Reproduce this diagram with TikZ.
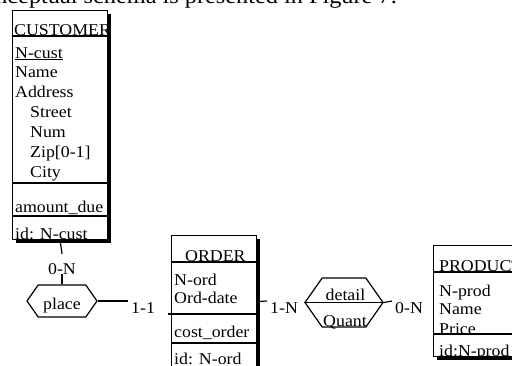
\documentclass[tikz,border=0pt]{standalone}
\usepackage{fontspec}
\setmainfont{Liberation Serif}[FakeStretch=1.08]
\usetikzlibrary{positioning,shapes.symbols,shadows}

\begin{document}
\begin{tikzpicture}[
  x=1pt, y=-1pt,
  font=\fontsize{16.5}{19}\selectfont,
  entity/.style={draw, line width=1.2pt, fill=white, anchor=north west, inner sep=0pt,
    drop shadow={shadow xshift=3pt, shadow yshift=-3pt, fill=black, opacity=1}},
  sep/.style={line width=1.2pt},
  attr/.style={anchor=base west, inner sep=0pt},
  rel/.style={draw, line width=1.2pt, signal, signal to=east and west,
    signal pointer angle=110, inner sep=0pt},
  card/.style={anchor=north west, inner xsep=3pt, inner ysep=1pt},
  link/.style={line width=1.2pt}
]
\useasboundingbox (0,0) rectangle (512,365);
\clip (0,0) rectangle (512,365);

% line of running text above the figure
\node[anchor=base east, inner sep=0pt, font=\fontsize{22.5}{26}\selectfont] (caption) at (397,3.5)
  {conceptual schema is presented in Figure 7.};

% CUSTOMER
\node[entity, minimum width=95pt, minimum height=229pt] (cust) at (12,10) {};
\draw[sep] ([yshift=-26pt]cust.north west) -- ([yshift=-26pt]cust.north east);
\draw[sep] ([yshift=-173pt]cust.north west) -- ([yshift=-173pt]cust.north east);
\draw[sep] ([yshift=-206pt]cust.north west) -- ([yshift=-206pt]cust.north east);
\node[attr] (custname) at (14,35) {CUSTOMER};
\node[attr] (ncust) at (15,58.5) {N-cust};
\draw[line width=1.5pt] ([yshift=-1pt]ncust.base west) -- ([yshift=-1pt]ncust.base east);
\foreach \x/\y/\a [count=\i] in {15/77.5/Name, 15/97/Address, 30/117/Street,
    30/137/Num, 30/157/{Zip[0-1]}, 30/177/City}
  \node[attr] (cust\i) at (\x,\y) {\a};
\node[attr] (due) at (15,212) {amount\_due};
\node[attr] (custid) at (15,239.5) {id: N-cust};

% ORDER
\node[entity, minimum width=85pt, minimum height=132pt] (order) at (171,235) {};
\draw[sep] ([yshift=-27pt]order.north west) -- ([yshift=-27pt]order.north east);
\draw[sep] ([xshift=-3pt,yshift=-79pt]order.north west) -- ([yshift=-79pt]order.north east);
\draw[sep] ([yshift=-108pt]order.north west) -- ([yshift=-108pt]order.north east);
\node[attr] (ordname) at (185,261.5) {ORDER};
\node[attr] (nord) at (174,285) {N-ord};
\node[attr] (orddate) at (174,303) {Ord-date};
\node[attr] (cost) at (174,337) {cost\_order};
\node[attr] (ordid) at (174,364) {id: N-ord};

% PRODUCT
\node[entity, minimum width=90pt, minimum height=111pt] (prod) at (433,245) {};
\draw[sep] ([yshift=-27pt]prod.north west) -- ([yshift=-27pt]prod.north east);
\draw[sep] ([yshift=-89pt]prod.north west) -- ([yshift=-89pt]prod.north east);
\node[attr] (prodname) at (439,271.5) {PRODUCT};
\node[attr] (nprod) at (439,296) {N-prod};
\node[attr] (pname) at (439,314) {Name};
\node[attr] (price) at (439,334) {Price};
\node[attr] (prodid) at (439,356) {id:N-prod};

% relationships
\node[rel, minimum width=70pt, minimum height=32pt] (place) at (62,301) {};
\node[anchor=base, inner sep=0pt] (placename) at (62,309.5) {place};
\node[rel, minimum width=78pt, minimum height=49pt] (detail) at (344,302.5) {};
\draw[sep] (detail.west) -- (detail.east);
\node[anchor=base, inner sep=0pt] (detailname) at (345.5,300.5) {detail};
\node[anchor=base, inner sep=0pt] (quant) at (345,326.5) {Quant};

% roles
\node[inner sep=0pt, text height=20pt, text depth=0pt] (r1) at (62,264) {0-N};
\node[card] (r2) at (128,301) {1-1};
\node[card] (r3) at (267,301) {1-N};
\node[card] (r4) at (392,301) {0-N};

\draw[link] (cust.south) -- (r1.north);
\draw[link] (r1.south) -- (place.north);
\draw[link] (place.east) -- (r2.north west);
\draw[link] (order.east) -- (r3.north west);
\draw[link] (detail.east) -- (r4.north west);
\end{tikzpicture}
\end{document}
